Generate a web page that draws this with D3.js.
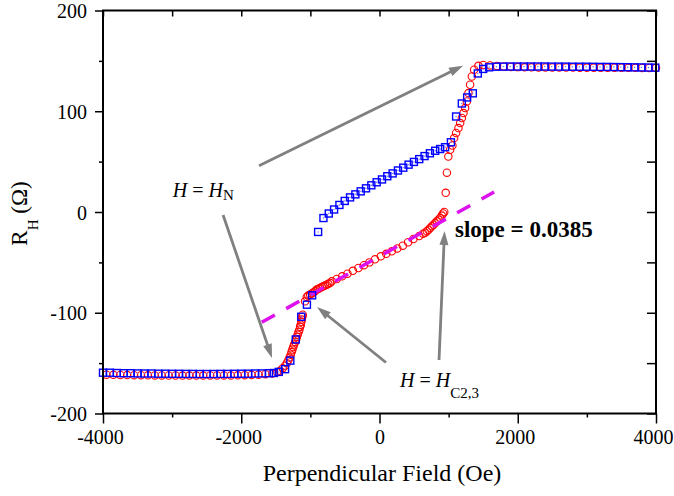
<!DOCTYPE html>
<html>
<head>
<meta charset="utf-8">
<script src="https://d3js.org/d3.v7.min.js"></script>
<style>
body { margin: 0; background: #fff; }
text { font-family: "Liberation Serif", "Times New Roman", Times, serif; fill: #000; }
</style>
</head>
<body>
<svg id="chart" width="674" height="496"></svg>
<script>

// blue squares (sweep 1)
var blueX = [-4000,-3900,-3800,-3700,-3600,-3500,-3400,-3300,-3200,-3100,-3000,-2900,-2800,-2700,-2600,-2500,-2400,-2300,-2200,-2100,-2000,-1900,-1800,-1700,-1600,
  -1530,-1457,-1366,-1290,-1211,-1132,-1050,-975,
  -888,-811,-734,-657,-580,-503,-426,-349,-272,-195,-118,-41,36,113,190,267,344,421,498,575,652,729,806,877,949,1033,
  1108,1191,1268,1350,1422,1500,1586,
  1690,1790,1890,1990,2090,2190,2290,2390,2490,2590,2690,2790,2890,2990,3090,3190,3290,3390,3490,3590,3690,3790,3890,3990]
var blueY = [-159.5,-159.5,-159.8,-160,-160,-160.2,-160.3,-160.3,-160.5,-160.5,-160.6,-160.6,-160.7,-160.7,-160.8,-160.8,-160.8,-160.7,-160.7,-160.6,-160.5,-160.5,-160.3,-160.2,-160,
  -159.8,-158.7,-156,-147.5,-126.5,-104,-92,-82.7,
  -19.8,-6,-1.5,2.5,7,11,14.5,17.5,20.5,23.5,26.5,29.5,32.3,35.5,38.3,41.2,44,47,49.7,52.5,55.5,58.3,60.8,62.5,64.3,69.2,
  94.8,107.7,113.7,117.8,137.5,142,143.6,
  144.2,144.3,144.4,144.4,144.4,144.4,144.4,144.4,144.3,144.3,144.3,144.2,144.2,144.2,144.1,144,144,143.9,143.8,143.7,143.6,143.5,143.4,143.3]

// red circles (sweep 2)
var redX = [-3950,-3850,-3750,-3650,-3550,-3450,-3350,-3250,-3150,-3050,-2950,-2850,-2750,-2650,-2550,-2450,-2350,-2250,-2150,-2050,-1950,-1850,-1750,-1650,-1550,
  -1480,-1439,-1400,-1366,-1340,-1318,-1300,-1284,-1272,-1260,-1248,-1236,-1221,-1207,-1195,-1183,-1171,-1159,-1148,-1139,-1131,-1124,-1116,-1110,
  -1077,-1052,-1030,-1004,-980,-956,-930,-907,-883,-860,-835,-812,-788,-763,-740,-715,-690,
  -618,-540,-464,-385,-305,-225,-146,-65,19,98,178,258,337,414,491,575,
  630,660,685,709,733,757,781,805,829,853,877,901,920,937,
  958,975,996,1022,1055,1080,1108,1142,1167,1191,1215,1239,1263,1287,1311,1336,1369,1431,1500,
  1600,1700,1800,1900,2000,2100,2200,2300,2400,2500,2600,2700,2800,2900,3000,3100,3200,3300,3400,3500,3600,3700,3800,3900,4000]
var redY = [-161.5,-161.6,-161.8,-161.9,-162,-162,-162.1,-162.2,-162.2,-162.3,-162.3,-162.4,-162.4,-162.4,-162.4,-162.3,-162.3,-162.2,-162.2,-162.1,-162,-161.8,-161.5,-161,-160.2,
  -159,-157.5,-155,-152.5,-150,-147,-144.5,-141.6,-139,-136.6,-134,-131.6,-129,-126.7,-124,-121.7,-119,-116.8,-114,-111.8,-109,-106.8,-104,-101.9,
  -88.7,-84.3,-83,-82,-80.8,-79.8,-78.5,-77,-76.2,-75.4,-74.5,-73.8,-73,-72.1,-71.3,-70.4,-68.8,
  -66.5,-63.8,-61.2,-58.4,-55.6,-52.8,-50,-47,-44,-41.5,-39,-36.2,-33.4,-30,-26.8,-23.8,
  -21.5,-20.5,-19,-17.5,-15.9,-14.2,-12.6,-11,-9.3,-7.7,-6,-3.5,-1.5,0,
  19,39,55,61.8,66,73.4,78.4,83.3,88.3,93.3,98.2,103.2,109.7,118,126.3,134.5,141.2,145.1,146,
  145.5,145,144.5,144,143.8,143.6,143.6,143.5,143.5,143.5,143.4,143.4,143.4,143.3,143.3,143.3,143.3,143.2,143.2,143.2,143.1,143.1,143,143,143]

// linear fit through the lower branch
var fitX = [-1703, 1658]
var fitY = [-109.5, 19.8]

var xMajor = [-4000, -2000, 0, 2000, 4000]
var xMinor = [-3000, -1000, 1000, 3000]
var yMajor = [-200, -100, 0, 100, 200]
var yMinor = [-150, -50, 50, 150]
var yAll = [-200, -150, -100, -50, 0, 50, 100, 150, 200]
var xAll = [-4000, -3000, -2000, -1000, 0, 1000, 2000, 3000, 4000]

// annotation arrows: [x1, y1, x2, y2] in data units, head at (x2, y2)
var arrows = [
  [-1743, 45.9, 1208, 145.2],
  [-2263, -3, -1555, -144.9],
  [94, -149.4, -904, -94.3],
  [861, -146.9, 941, -18.9]
]

var svg = d3.select("#chart")

var x = d3.scaleLinear().domain([-4000, 4000]).range([103, 656])
var y = d3.scaleLinear().domain([-200, 200]).range([413.5, 10.5])

// red circles
svg.append("g").selectAll("circle")
  .data(redX)
  .enter()
  .append("circle")
  .attr("cx", (d) => x(d))
  .attr("cy", (d, i) => y(redY[i]))
  .attr("r", 3.7)
  .style("fill", "none")
  .style("stroke", "#ff0000")
  .style("stroke-width", 1.1)

// fit line
svg.append("line")
  .attr("x1", x(fitX[0])).attr("y1", y(fitY[0]))
  .attr("x2", x(fitX[1])).attr("y2", y(fitY[1]))
  .style("stroke", "#dd11ee")
  .style("stroke-width", 3.5)
  .style("stroke-dasharray", "15,13")

// blue squares
var sq = svg.append("g").selectAll("g")
  .data(blueX)
  .enter()
  .append("g")
  .attr("transform", (d, i) => "translate(" + x(d) + "," + y(blueY[i]) + ")")
sq.append("rect")
  .attr("x", -3.5).attr("y", -3.5)
  .attr("width", 7).attr("height", 7)
  .style("fill", "none")
  .style("stroke", "#0000ff")
  .style("stroke-width", 1.4)
sq.append("circle")
  .attr("r", 0.7)
  .style("fill", "#6666ff")

// arrows
var ag = svg.append("g")
arrows.forEach(function(a) {
  var x1 = x(a[0]), y1 = y(a[1]), x2 = x(a[2]), y2 = y(a[3])
  var dx = x2 - x1, dy = y2 - y1, len = Math.sqrt(dx * dx + dy * dy)
  var ux = dx / len, uy = dy / len
  var hl = 14, hw = 4.5
  ag.append("line")
    .attr("x1", x1).attr("y1", y1)
    .attr("x2", x2 - ux * (hl - 2)).attr("y2", y2 - uy * (hl - 2))
    .style("stroke", "#808080")
    .style("stroke-width", 2.8)
  var bx = x2 - ux * hl, by = y2 - uy * hl
  ag.append("path")
    .attr("d", "M" + x2 + "," + y2 + "L" + (bx - uy * hw) + "," + (by + ux * hw) + "L" + (bx + uy * hw) + "," + (by - ux * hw) + "Z")
    .style("fill", "#808080")
})

// axes (minor ticks in their own groups so the joins do not collide)
var fmt = (d) => String(d)
var axBottom = svg.append("g").attr("transform", "translate(0," + y(-200) + ")")
  .call(d3.axisBottom(x).tickValues(xMajor).tickSize(10).tickFormat(fmt))
svg.append("g").attr("transform", "translate(0," + y(-200) + ")")
  .call(d3.axisBottom(x).tickValues(xMinor).tickSize(4).tickFormat(""))
axBottom.selectAll("text")
  .attr("y", 30).attr("dy", 0)
  .attr("dx", (d) => d === 0 ? 0 : -3)
  .style("font-size", "20px")
  .style("font-family", "'Liberation Serif', 'Times New Roman', serif")

var axLeft = svg.append("g").attr("transform", "translate(" + x(-4000) + ",0)")
  .call(d3.axisLeft(y).tickValues(yMajor).tickSize(8).tickFormat(fmt))
svg.append("g").attr("transform", "translate(" + x(-4000) + ",0)")
  .call(d3.axisLeft(y).tickValues(yMinor).tickSize(4).tickFormat(""))
axLeft.selectAll("text")
  .attr("x", -16).attr("dy", "0.35em")
  .style("font-size", "20px")
  .style("font-family", "'Liberation Serif', 'Times New Roman', serif")

svg.append("g").attr("transform", "translate(0," + y(200) + ")")
  .call(d3.axisBottom(x).tickValues(xAll).tickSize(6).tickFormat(""))

svg.append("g").attr("transform", "translate(" + x(4000) + ",0)")
  .call(d3.axisLeft(y).tickValues(yAll).tickSize(9).tickFormat(""))

svg.selectAll(".domain").remove()
svg.selectAll(".tick line").style("stroke", "#000").style("stroke-width", 1.5)

svg.append("rect")
  .attr("x", x(-4000)).attr("y", y(200))
  .attr("width", x(4000) - x(-4000)).attr("height", y(-200) - y(200))
  .style("fill", "none")
  .style("stroke", "#000")
  .style("stroke-width", 2)

// axis titles
svg.append("text")
  .attr("x", 382).attr("y", 481)
  .attr("text-anchor", "middle")
  .style("font-size", "24px")
  .text("Perpendicular Field (Oe)")

var yt = svg.append("text")
  .attr("transform", "translate(27,213.5) rotate(-90)")
  .attr("text-anchor", "middle")
  .style("font-size", "23px")
yt.append("tspan").text("R")
yt.append("tspan").attr("dy", 11).style("font-size", "15px").text("H")
yt.append("tspan").attr("dy", -11).text("\u00a0(\u03a9)")

// annotations
var t1 = svg.append("text")
  .attr("x", x(-2990)).attr("y", y(15.2))
  .style("font-size", "20px")
t1.append("tspan").style("font-style", "italic").text("H")
t1.append("tspan").text(" = ")
t1.append("tspan").style("font-style", "italic").text("H")
t1.append("tspan").attr("dy", 3.5).style("font-size", "15px").text("N")

var t2 = svg.append("text")
  .attr("x", x(296)).attr("y", y(-173.4))
  .style("font-size", "20px")
t2.append("tspan").style("font-style", "italic").text("H")
t2.append("tspan").text(" = ")
t2.append("tspan").style("font-style", "italic").text("H")
t2.append("tspan").attr("dy", 11).style("font-size", "15px").text("C2,3")

svg.append("text")
  .attr("x", x(1092)).attr("y", y(-24.8))
  .style("font-size", "23px")
  .style("font-weight", "bold")
  .text("slope = 0.0385")

</script>
</body>
</html>
